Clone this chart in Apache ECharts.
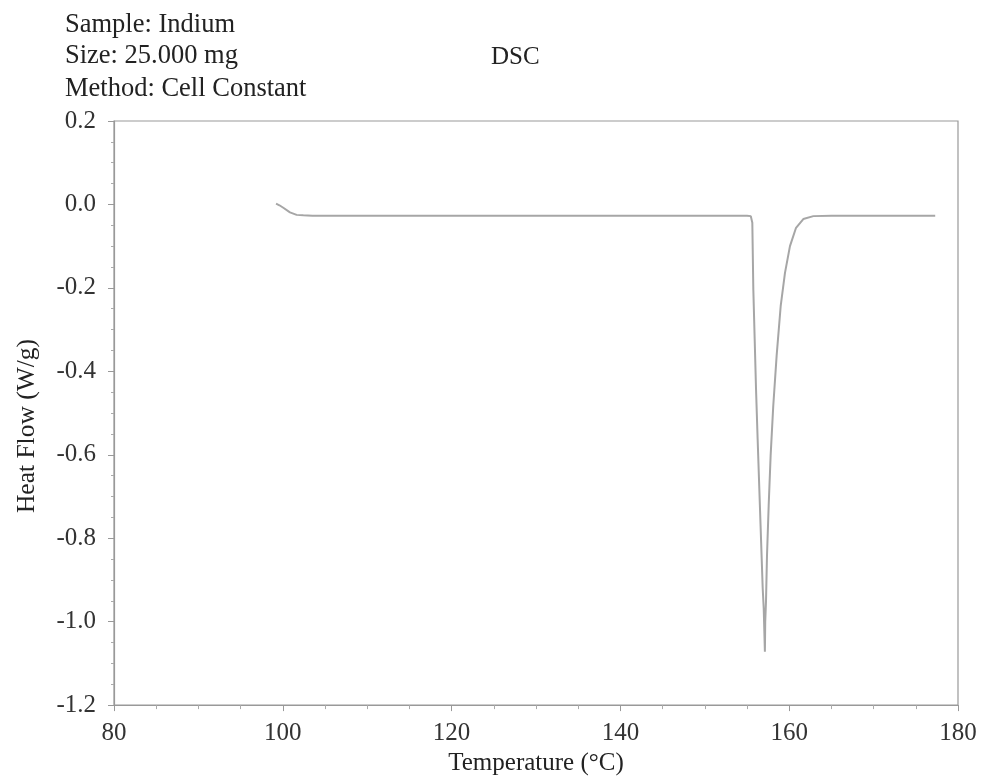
<!DOCTYPE html>
<html>
<head>
<meta charset="utf-8">
<script src="https://cdn.jsdelivr.net/npm/echarts@6/dist/echarts.min.js"></script>
<style>
html,body{margin:0;padding:0;background:#fff;}
#chart{width:984px;height:781px;}
</style>
</head>
<body>
<div id="chart"></div>
<script>
// Temperature (°C)
var temperature = [99.2, 99.6, 100.06, 100.85, 101.64, 102.43, 103.5, 105, 110, 120, 130, 140, 150, 155.0,
  155.45, 155.63, 155.75, 155.91, 156.07, 156.26, 156.46, 156.66, 156.86, 156.98, 157.12, 157.16,
  157.25, 157.37, 157.57, 157.80, 158.11, 158.51, 158.99, 159.50, 160.09, 160.81, 161.67, 162.86,
  165, 170, 177.3];
// Heat Flow (W/g)
var heatFlow = [0.002, -0.002, -0.008, -0.019, -0.025, -0.026, -0.027, -0.027, -0.027, -0.027, -0.027, -0.027, -0.027, -0.027,
  -0.028, -0.044, -0.204, -0.323, -0.443, -0.562, -0.682, -0.801, -0.920, -0.968, -1.072, -1.0,
  -0.952, -0.841, -0.721, -0.602, -0.483, -0.363, -0.244, -0.164, -0.100, -0.056, -0.035, -0.028,
  -0.027, -0.027, -0.027];

var headerLines = ['Sample: Indium', 'Size: 25.000 mg', 'Method: Cell Constant'];
var chartTitle = 'DSC';
var xName = 'Temperature (°C)';
var yName = 'Heat Flow (W/g)';

var FONT = '"Liberation Serif", "Times New Roman", serif';
var chart = echarts.init(document.getElementById('chart'), null, {renderer: 'canvas'});

var pts = temperature.map(function (t, i) { return [t, heatFlow[i]]; });

var headerY = [26, 57, 90];
var graphics = headerLines.map(function (s, i) {
  return {type: 'text', left: 65, top: headerY[i] - 14,
    style: {text: s, font: '26.5px ' + FONT, fill: '#222'}};
});
graphics.push({type: 'text', left: 491, top: 58 - 13,
  style: {text: chartTitle, font: '25px ' + FONT, fill: '#222'}});
graphics.push({type: 'text', x: 27, y: 426, rotation: Math.PI / 2,
  style: {text: yName, font: '25.5px ' + FONT, fill: '#222', align: 'center', verticalAlign: 'middle'}});

chart.setOption({
  animation: false,
  backgroundColor: '#fff',
  grid: {left: 114, right: 26, top: 121, bottom: 74, show: true, borderColor: '#999', borderWidth: 1.2, backgroundColor: 'transparent'},
  graphic: graphics,
  xAxis: {
    type: 'value', min: 80, max: 180, interval: 20,
    name: xName, nameLocation: 'middle', nameGap: 43,
    nameTextStyle: {fontFamily: FONT, fontSize: 25, color: '#222'},
    axisLine: {show: true, onZero: false, lineStyle: {color: '#999', width: 1.2}},
    axisTick: {show: true, length: 6, lineStyle: {color: '#999'}},
    minorTick: {show: true, splitNumber: 4, length: 4, lineStyle: {color: '#aaa'}},
    splitLine: {show: false},
    axisLabel: {fontFamily: FONT, fontSize: 25, color: '#333', margin: 16}
  },
  yAxis: {
    type: 'value', min: -1.2, max: 0.2, interval: 0.2,
    axisLine: {show: true, onZero: false, lineStyle: {color: '#999', width: 1.2}},
    axisTick: {show: true, length: 6, lineStyle: {color: '#999'}},
    minorTick: {show: true, splitNumber: 4, length: 3, lineStyle: {color: '#aaa'}},
    splitLine: {show: false},
    axisLabel: {fontFamily: FONT, fontSize: 25, color: '#333', margin: 18,
      formatter: function (v) { return v.toFixed(1); }}
  },
  series: [{
    type: 'line', data: pts, showSymbol: false, smooth: false,
    lineStyle: {color: '#a6a6a6', width: 2}
  }]
});
</script>
</body>
</html>
